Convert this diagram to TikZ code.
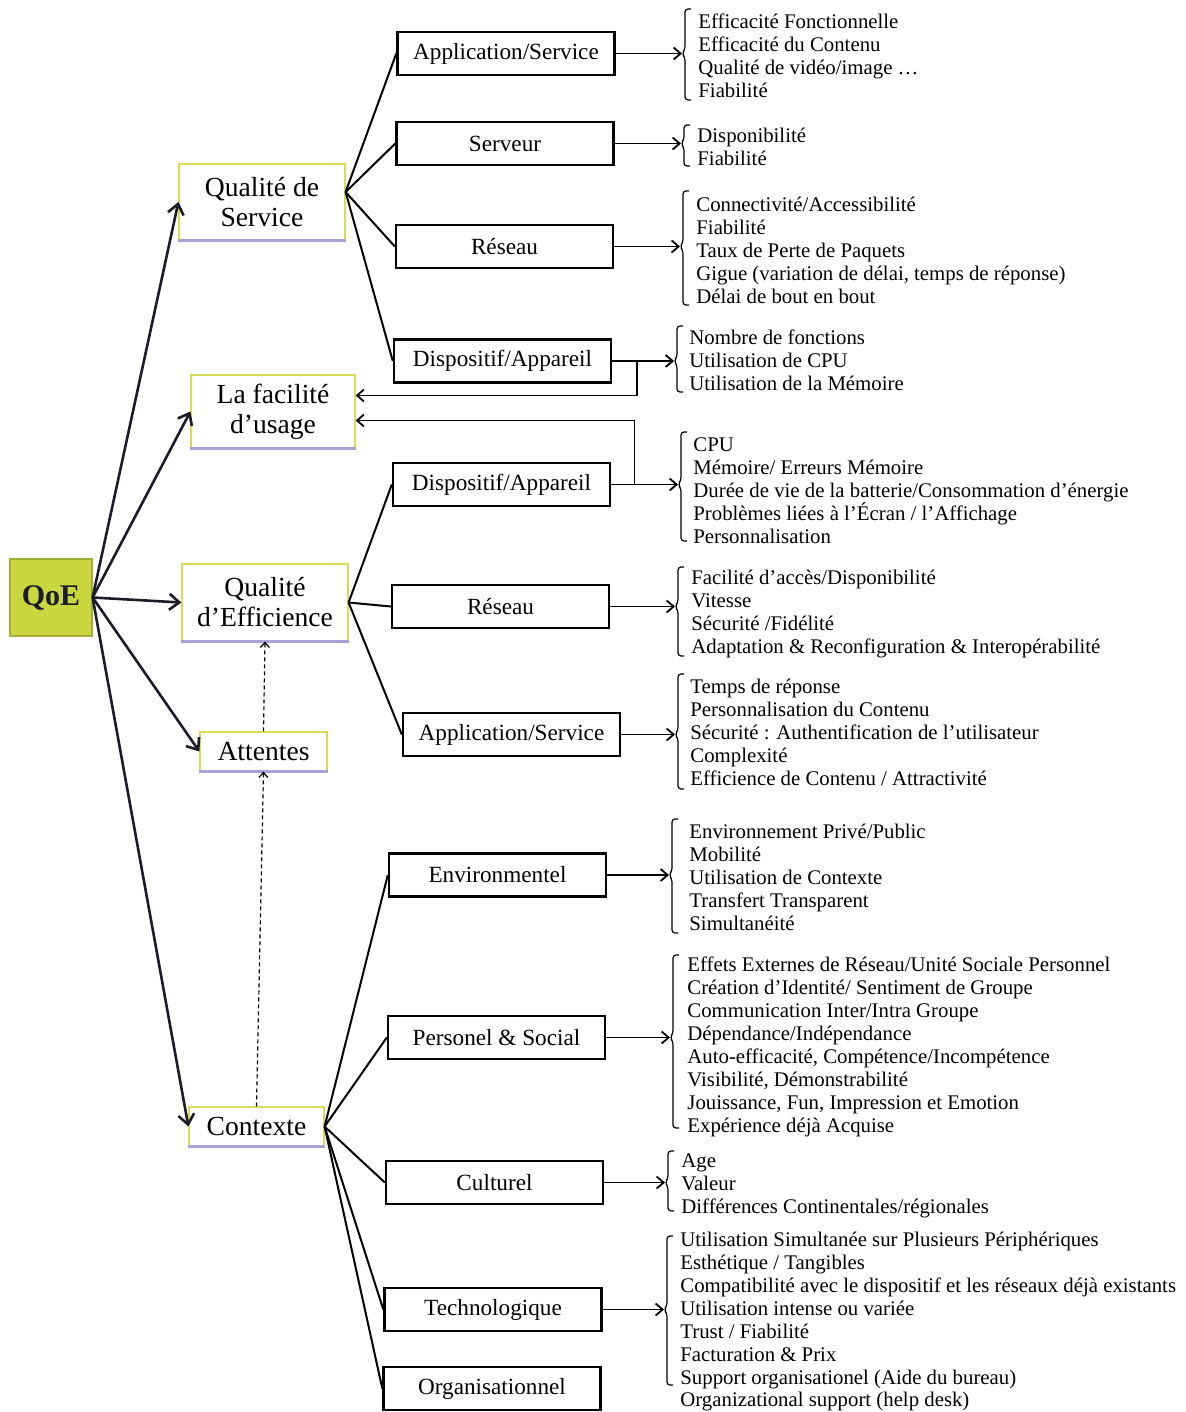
\documentclass[tikz,border=0pt]{standalone}
\usepackage{fontspec}
\setmainfont{Liberation Serif}
\usetikzlibrary{arrows.meta}
\definecolor{qoefill}{HTML}{C9D63E}
\definecolor{qoeedge}{HTML}{A3AE36}
\definecolor{catedge}{HTML}{D9DC55}
\definecolor{catshade}{HTML}{A7A3D6}
\definecolor{ink}{HTML}{1C1C28}

% left bracket in front of an item list: x, top, bottom, middle, name of the notch point
\newcommand\itembrace[5]{%
  \draw[brk] (#1+6,#2) -- (#1,#2) -- (#1,#4-4) -- (#1-3,#4) -- (#1,#4+4) -- (#1,#3) -- (#1+6,#3);
  \coordinate (#5) at (#1-3,#4);}

\begin{document}
\begin{tikzpicture}[x=0.5pt,y=-0.5pt,
  qoebox/.style={draw=qoeedge, fill=qoefill, line width=0.6pt, minimum width=41pt,
    minimum height=38.5pt, inner sep=0pt, font=\fontsize{15}{17}\selectfont\bfseries, text=ink},
  catbox/.style={draw=catedge, fill=white, line width=0.6pt, inner sep=0pt, align=center,
    font=\fontsize{13.8}{15}\selectfont},
  subbox/.style={draw=black, line width=1.2pt, minimum width=108.5pt, minimum height=21.5pt,
    inner sep=0pt, font=\fontsize{11.6}{13}\selectfont},
  itemlist/.style={anchor=west, align=left, inner sep=0pt, font=\fontsize{10.4}{11.5}\selectfont},
  main/.style={draw=ink, line width=1.3pt, -{Straight Barb[length=5pt,width=8pt]}},
  branch/.style={draw=black, line width=1pt},
  toitems/.style={draw=black, line width=0.9pt, -{Straight Barb[length=3.5pt,width=6pt]}},
  back/.style={draw=black, line width=0.9pt, -{Straight Barb[length=3.5pt,width=6pt]}},
  expect/.style={draw=black, line width=0.6pt, dash pattern=on 2pt off 1.5pt,
    -{Straight Barb[length=2.5pt,width=4.5pt]}},
  brk/.style={draw=black, line width=0.6pt, rounded corners=1.5pt},
  shadeline/.style={draw=catshade, line width=1.2pt},
]
\useasboundingbox (0,0) rectangle (1185,1412);

% root
\node[qoebox] (qoe) at (51,597.5) {QoE};

% first level
\node[catbox, minimum width=83pt, minimum height=38pt] (qds) at (262,202) {Qualité de\\Service};
\node[catbox, minimum width=82pt, minimum height=36.5pt] (facil) at (273,411.5) {La facilité\\d’usage};
\node[catbox, minimum width=83pt, minimum height=38.5pt] (eff) at (265,602.5) {Qualité\\d’Efficience};
\node[catbox, minimum width=63.5pt, minimum height=19.5pt] (att) at (263.5,751.5) {Attentes};
\node[catbox, minimum width=67.5pt, minimum height=19.5pt] (ctx) at (256.5,1126.5) {Contexte};
\foreach \n in {qds,facil,eff,att,ctx}
  \draw[shadeline] (\n.south west) -- (\n.south east);

% second level
\node[subbox] (app1) at (506,53.5) {Application/Service};
\node[subbox] (serv) at (505,143.5) {Serveur};
\node[subbox] (res1) at (504.5,246.5) {Réseau};
\node[subbox] (disp1) at (502.5,361) {Dispositif/Appareil};
\node[subbox] (disp2) at (501.5,484.5) {Dispositif/Appareil};
\node[subbox] (res2) at (500.5,606.5) {Réseau};
\node[subbox] (app2) at (511.5,734.5) {Application/Service};
\node[subbox] (env) at (497.5,875) {Environmentel};
\node[subbox] (pers) at (496.5,1037.5) {Personel \& Social};
\node[subbox] (cult) at (494.5,1182.5) {Culturel};
\node[subbox] (tech) at (493,1309.5) {Technologique};
\node[subbox] (org) at (492,1388.5) {Organisationnel};

% item lists
\node[itemlist] (lA) at (698,56) {Efficacité Fonctionnelle\\Efficacité du Contenu\\Qualité de vidéo/image \dots\\Fiabilité};
\node[itemlist] (lB) at (697,147) {Disponibilité\\Fiabilité};
\node[itemlist] (lC) at (696,250) {Connectivité/Accessibilité\\Fiabilité\\Taux de Perte de Paquets\\Gigue (variation de délai, temps de réponse)\\Délai de bout en bout};
\node[itemlist] (lD) at (689,360) {Nombre de fonctions\\Utilisation de CPU\\Utilisation de la Mémoire};
\node[itemlist] (lE) at (693,491) {CPU\\Mémoire/ Erreurs Mémoire\\Durée de vie de la batterie/Consommation d’énergie\\Problèmes liées à l’Écran / l’Affichage\\Personnalisation};
\node[itemlist] (lF) at (691,614) {Facilité d’accès/Disponibilité\\Vitesse\\Sécurité /Fidélité\\Adaptation \& Reconfiguration \& Interopérabilité};
\node[itemlist] (lG) at (690,732) {Temps de réponse\\Personnalisation du Contenu\\Sécurité : Authentification de l’utilisateur\\Complexité\\Efficience de Contenu / Attractivité};
\node[itemlist] (lH) at (689,877) {Environnement Privé/Public\\Mobilité\\Utilisation de Contexte\\Transfert Transparent\\Simultanéité};
\node[itemlist] (lI) at (687,1047) {Effets Externes de Réseau/Unité Sociale Personnel\\Création d’Identité/ Sentiment de Groupe\\Communication Inter/Intra Groupe\\Dépendance/Indépendance\\Auto-efficacité, Compétence/Incompétence\\Visibilité, Démonstrabilité\\Jouissance, Fun, Impression et Emotion\\Expérience déjà Acquise};
\node[itemlist] (lJ) at (681,1186) {Age\\Valeur\\Différences Continentales/régionales};
\node[itemlist] (lK) at (680,1310) {Utilisation Simultanée sur Plusieurs Périphériques\\Esthétique / Tangibles\\Compatibilité avec le dispositif et les réseaux déjà existants\\Utilisation intense ou variée\\Trust / Fiabilité\\Facturation \& Prix\\Support organisationel (Aide du bureau)};
\node[itemlist] (lL) at (680,1402) {Organizational support (help desk)};

% brackets
\itembrace{685}{9}{100}{53.5}{bA}
\itembrace{684}{125}{166}{143.5}{bB}
\itembrace{683}{191}{305}{246.5}{bC}
\itembrace{677}{326}{392}{361}{bD}
\itembrace{681}{432}{541}{484.5}{bE}
\itembrace{678}{567}{656}{606.5}{bF}
\itembrace{678}{674}{789}{734.5}{bG}
\itembrace{672}{819}{933}{875}{bH}
\itembrace{673}{955}{1128}{1037.5}{bI}
\itembrace{668}{1151}{1211}{1182.5}{bJ}
\itembrace{667}{1236}{1385}{1309.5}{bK}

% root to first level
\foreach \n in {qds,facil,eff,att,ctx}
  \draw[main] (qoe.east) -- (\n.west);

% first level to second level
\coordinate (qdshub) at ([yshift=5pt]qds.east);
\foreach \n in {app1,serv,res1,disp1}
  \draw[branch] (qdshub) -- (\n.west);
\foreach \n in {disp2,res2,app2}
  \draw[branch] (eff.east) -- (\n.west);
\foreach \n in {env,pers,cult,tech,org}
  \draw[branch] (ctx.east) -- (\n.west);

% second level to item lists
\draw[toitems] (app1.east) -- (bA);
\draw[toitems] (serv.east) -- (bB);
\draw[toitems] (res1.east) -- (bC);
\draw[toitems] (disp1.east) -- coordinate[pos=0.4] (j1) (bD);
\draw[toitems] (disp2.east) -- coordinate[pos=0.35] (j2) (bE);
\draw[toitems] (res2.east) -- (bF);
\draw[toitems] (app2.east) -- (bG);
\draw[toitems] (env.east) -- (bH);
\draw[toitems] (pers.east) -- (bI);
\draw[toitems] (cult.east) -- (bJ);
\draw[toitems] (tech.east) -- (bK);

% device feedback into ease of use
\draw[back] (j1) |- ([yshift=8pt]facil.east);
\draw[back] (j2) |- ([yshift=-4.5pt]facil.east);

% expectations
\draw[expect] (att.north) -- (eff.south);
\draw[expect] (ctx.north) -- (att.south);
\end{tikzpicture}
\end{document}
